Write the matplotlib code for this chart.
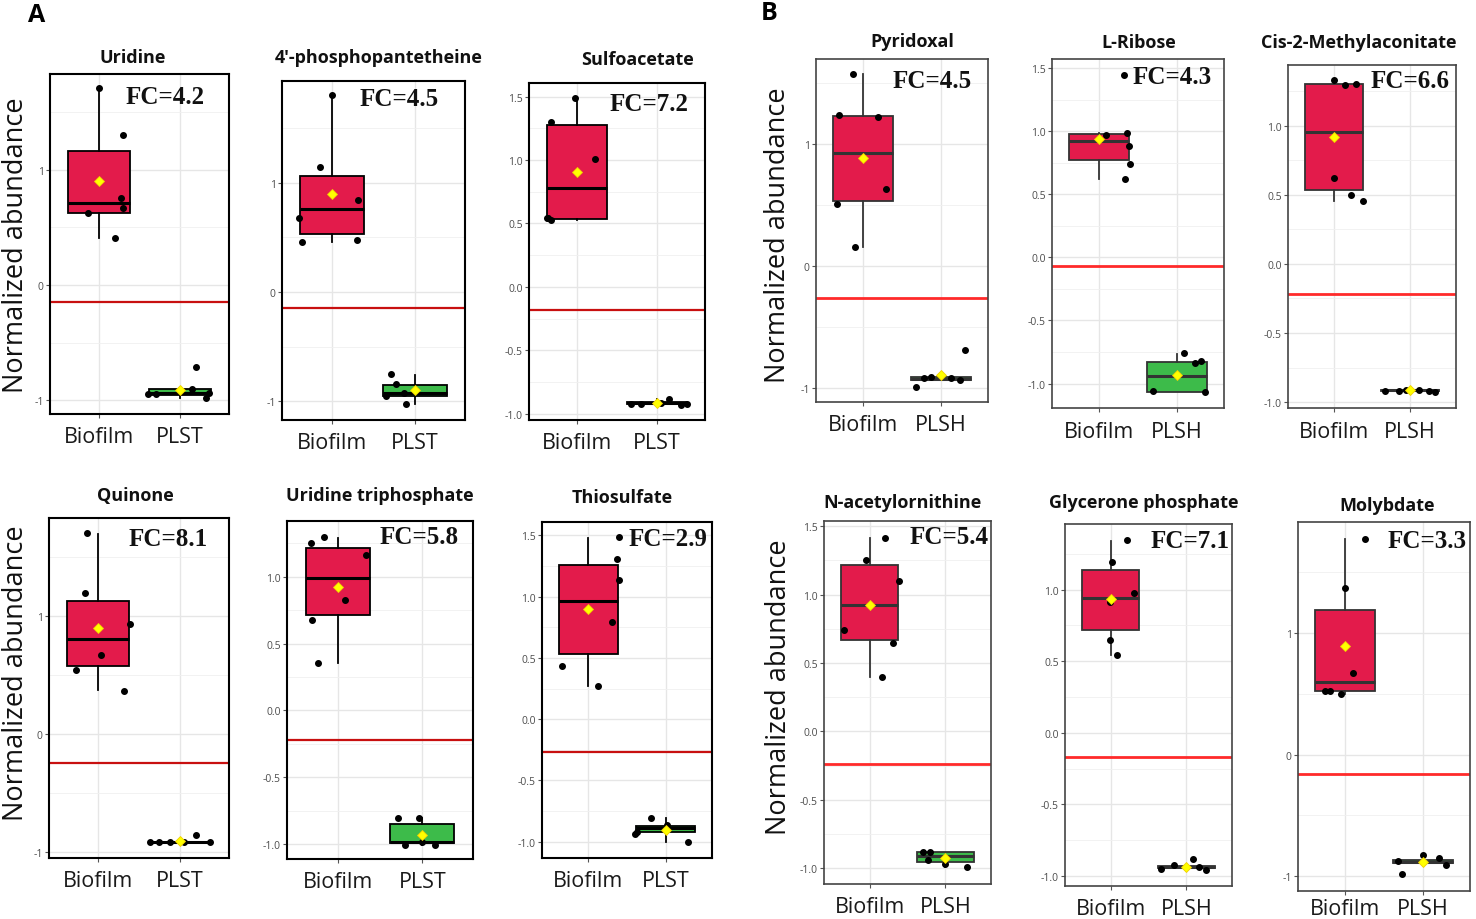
import numpy as np
import matplotlib.pyplot as plt
from matplotlib.ticker import AutoMinorLocator, FormatStrFormatter

plt.rcParams['axes.unicode_minus'] = False
plt.rcParams['font.family'] = ['Open Sans', 'DejaVu Sans']

W, H = 1476, 920

# ---- data ----
titles = ["Uridine", "4'-phosphopantetheine", "Sulfoacetate",
          "Pyridoxal", "L-Ribose", "Cis-2-Methylaconitate",
          "Quinone", "Uridine triphosphate", "Thiosulfate",
          "N-acetylornithine", "Glycerone phosphate", "Molybdate"]
fold_change = ["4.2", "4.5", "7.2", "4.5", "4.3", "6.6",
               "8.1", "5.8", "2.9", "5.4", "7.1", "3.3"]
group_names = [["Biofilm", "PLST"], ["Biofilm", "PLST"], ["Biofilm", "PLST"],
               ["Biofilm", "PLSH"], ["Biofilm", "PLSH"], ["Biofilm", "PLSH"],
               ["Biofilm", "PLST"], ["Biofilm", "PLST"], ["Biofilm", "PLST"],
               ["Biofilm", "PLSH"], ["Biofilm", "PLSH"], ["Biofilm", "PLSH"]]
threshold = [-0.15, -0.146, -0.184, -0.262, -0.069, -0.219,
             -0.243, -0.221, -0.267, -0.239, -0.172, -0.16]
y_limits = [(-1.12, 1.83), (-1.17, 1.93), (-1.05, 1.608),
            (-1.113, 1.696), (-1.193, 1.571), (-1.043, 1.439),
            (-1.047, 1.831), (-1.109, 1.415), (-1.133, 1.609),
            (-1.115, 1.537), (-1.07, 1.458), (-1.124, 1.916)]
int_ticks = [-1, 0, 1]
half_ticks = [-1.0, -0.5, 0.0, 0.5, 1.0, 1.5]
y_ticks = [int_ticks, int_ticks, half_ticks, int_ticks, half_ticks, half_ticks[:-1],
           int_ticks, half_ticks[:-1], half_ticks, half_ticks, half_ticks[:-1], int_ticks]

# box stats: whislo, q1, median, q3, whishi
bio_box = [[0.41, 0.62, 0.71, 1.165, 1.71], [0.46, 0.533, 0.762, 1.058, 1.80],
           [0.53, 0.537, 0.778, 1.275, 1.49], [0.156, 0.537, 0.928, 1.233, 1.574],
           [0.62, 0.773, 0.921, 0.979, 0.984], [0.453, 0.535, 0.957, 1.301, 1.33],
           [0.372, 0.575, 0.807, 1.128, 1.698], [0.351, 0.714, 0.993, 1.216, 1.291],
           [0.267, 0.533, 0.962, 1.258, 1.48], [0.40, 0.668, 0.92, 1.212, 1.412],
           [0.54, 0.721, 0.944, 1.14, 1.342], [0.50, 0.52, 0.597, 1.195, 1.78]]
bio_mean = [0.90, 0.90, 0.908, 0.887, 0.94, 0.92, 0.90, 0.925, 0.90, 0.925, 0.935, 0.891]
other_box = [[-0.98, -0.955, -0.935, -0.905, -0.90], [-1.02, -0.946, -0.92, -0.854, -0.757],
             [-0.93, -0.925, -0.918, -0.91, -0.886], [-0.936, -0.936, -0.922, -0.91, -0.91],
             [-1.066, -1.066, -0.942, -0.829, -0.763], [-0.925, -0.92, -0.916, -0.91, -0.905],
             [-0.915, -0.913, -0.911, -0.909, -0.905], [-1.005, -0.993, -0.98, -0.851, -0.806],
             [-1.003, -0.921, -0.89, -0.875, -0.81], [-0.993, -0.956, -0.907, -0.878, -0.878],
             [-0.956, -0.945, -0.937, -0.93, -0.926], [-0.91, -0.895, -0.883, -0.872, -0.856]]
other_mean = [-0.91, -0.90, -0.918, -0.895, -0.934, -0.916,
              -0.903, -0.93, -0.902, -0.924, -0.937, -0.889]

bio_points = [[1.71, 1.30, 0.75, 0.67, 0.62, 0.41],
              [1.80, 1.14, 0.68, 0.84, 0.46, 0.48],
              [1.49, 1.30, 1.01, 0.545, 0.527, 0.54],
              [1.574, 1.24, 1.22, 0.633, 0.505, 0.156],
              [1.445, 0.984, 0.966, 0.879, 0.742, 0.623],
              [1.33, 1.296, 1.30, 0.622, 0.50, 0.453],
              [1.707, 1.199, 0.937, 0.669, 0.544, 0.367],
              [1.249, 1.296, 1.159, 0.826, 0.674, 0.351],
              [1.486, 1.31, 1.139, 0.796, 0.435, 0.267],
              [1.415, 1.254, 1.097, 0.744, 0.646, 0.40],
              [1.347, 1.19, 0.977, 0.912, 0.651, 0.54],
              [1.78, 1.374, 0.671, 0.52, 0.52, 0.50]]
bio_jitter = [[0.0, 0.30, 0.27, 0.30, -0.13, 0.20],
              [0.0, -0.14, -0.40, 0.31, -0.36, 0.30],
              [-0.02, -0.33, 0.23, -0.38, -0.33, -0.36],
              [-0.13, -0.30, 0.19, 0.30, -0.33, -0.105],
              [0.32, 0.36, 0.09, 0.39, 0.40, 0.33],
              [0.0, 0.15, 0.29, 0.0, 0.22, 0.38],
              [-0.13, -0.155, 0.39, 0.04, -0.27, 0.32],
              [-0.32, -0.165, 0.33, 0.09, -0.31, -0.23],
              [0.40, 0.375, 0.40, 0.31, -0.34, 0.12],
              [0.2, -0.05, 0.39, -0.34, 0.31, 0.17],
              [0.22, 0.02, 0.31, -0.01, -0.01, 0.08],
              [0.26, 0.0, 0.1, -0.26, -0.19, -0.05]]
other_points = [[-0.95, -0.95, -0.90, -0.71, -0.98, -0.94],
                [-0.75, -0.84, -0.95, -0.92, -1.02],
                [-0.92, -0.925, -0.918, -0.886, -0.93, -0.925],
                [-0.99, -0.92, -0.91, -0.914, -0.936, -0.69],
                [-0.755, -0.834, -0.823, -1.06, -1.066],
                [-0.92, -0.918, -0.91, -0.915, -0.92, -0.925],
                [-0.911, -0.911, -0.909, -0.911, -0.849, -0.911],
                [-0.806, -0.806, -1.005, -1.005, -0.985],
                [-0.81, -0.864, -0.935, -1.003, -0.92],
                [-0.878, -0.878, -0.937, -0.968, -0.993],
                [-0.949, -0.926, -0.884, -0.937, -0.956],
                [-0.983, -0.825, -0.856, -0.911, -0.88]]
other_jitter = [[-0.40, -0.30, 0.15, 0.20, 0.32, 0.36],
                [-0.29, -0.23, -0.35, -0.13, -0.11],
                [-0.33, -0.2, 0.05, 0.15, 0.30, 0.38],
                [-0.32, -0.22, -0.13, 0.13, 0.24, 0.31],
                [0.09, 0.23, 0.31, -0.31, 0.36],
                [-0.33, -0.15, -0.05, 0.12, 0.25, 0.33],
                [-0.37, -0.25, -0.12, 0.05, 0.2, 0.37],
                [-0.29, -0.035, -0.21, 0.15, 0.0],
                [-0.19, 0.02, -0.40, 0.29, -0.37],
                [-0.29, -0.2, -0.23, -0.01, 0.28],
                [-0.34, -0.16, 0.08, 0.16, 0.26],
                [-0.27, 0.0, 0.2, 0.29, -0.32]]

# ---- layout (pixels) ----
panel_px = [(50, 229, 75, 415), (282, 465, 82, 421), (529, 705, 84, 421),
            (816, 988, 60, 403), (1052, 1224, 60, 409), (1288, 1456, 66, 409),
            (49, 229, 519, 859), (287, 473, 522, 860), (542, 712, 523, 859),
            (824, 991, 522, 885), (1065, 1232, 525, 887), (1298, 1470, 523, 892)]
title_px = [(133, 58), (379, 58), (638, 60), (912, 42), (1139, 43), (1359, 43),
            (135, 496), (380, 496), (622, 498), (902, 503), (1144, 503), (1387, 506)]
fc_px = [(24, 22), (26, 18), (16, 21), (16, 22), (12, 18), (6, 15),
         (21, 21), (14, 15), (5, 17), (2, 16), (2, 16), (3, 19)]
ylabel_px = [(16, 245), (778, 235), (16, 673), (779, 687)]
in_b = [False, False, False, True, True, True, False, False, False, True, True, True]

red_fill = '#E31B4B'
green_fill = '#3DBB4A'

fig = plt.figure(figsize=(W / 100, H / 100), dpi=100)

for i in range(12):
    l, r, t, b = panel_px[i]
    ax = fig.add_axes([l / W, 1 - b / H, (r - l) / W, (b - t) / H])
    edge = '#333333' if in_b[i] else 'black'

    stats = []
    for box, mean in [(bio_box[i], bio_mean[i]), (other_box[i], other_mean[i])]:
        stats.append(dict(whislo=box[0], q1=box[1], med=box[2], q3=box[3], whishi=box[4], mean=mean))
    parts = ax.bxp(stats, positions=[1, 2], widths=0.76, patch_artist=True,
                   showfliers=False, showcaps=False,
                   boxprops=dict(edgecolor=edge, linewidth=1.3),
                   medianprops=dict(color=edge, linewidth=2.2),
                   whiskerprops=dict(color=edge, linewidth=1.3))
    parts['boxes'][0].set_facecolor(red_fill)
    parts['boxes'][1].set_facecolor(green_fill)
    for p in parts['boxes'] + parts['whiskers'] + parts['medians']:
        p.set_zorder(2)

    ax.scatter(1 + np.array(bio_jitter[i]), bio_points[i], s=16, color='black', zorder=3)
    ax.scatter(2 + np.array(other_jitter[i]), other_points[i], s=16, color='black', zorder=3)
    ax.plot([1, 2], [bio_mean[i], other_mean[i]], linestyle='none', marker='D', markersize=5,
            markerfacecolor='#FFFF00', markeredgecolor='#F0D000', markeredgewidth=0.6, zorder=4)

    ax.axhline(threshold[i], color='#FF2A2A' if in_b[i] else '#C81010',
               linewidth=2.0 if in_b[i] else 1.6, zorder=1.5)

    ax.set_xlim(0.4, 2.6)
    ax.set_ylim(*y_limits[i])
    ax.set_xticks([1, 2])
    ax.set_xticklabels(group_names[i], fontsize=15.5)
    ax.set_yticks(y_ticks[i])
    if y_ticks[i] is int_ticks:
        ax.yaxis.set_major_formatter(FormatStrFormatter('%d'))
    else:
        ax.yaxis.set_major_formatter(FormatStrFormatter('%.1f'))
    ax.yaxis.set_minor_locator(AutoMinorLocator(2))
    ax.tick_params(axis='y', which='major', labelsize=7.5, labelcolor='#4D4D4D',
                   length=3, width=0.8, color='#555555', pad=1.5)
    ax.tick_params(axis='x', which='major', length=3, width=0.8, color='#555555',
                   pad=2 if b > 888 else 6, labelcolor='#1A1A1A')
    ax.tick_params(which='minor', length=0)
    ax.grid(True, which='major', color='#E6E6E6', linewidth=1.0, zorder=0)
    ax.grid(True, which='minor', axis='y', color='#F0F0F0', linewidth=0.6, zorder=0)
    ax.set_axisbelow(True)
    for s in ax.spines.values():
        s.set_color('#444444' if in_b[i] else 'black')
        s.set_linewidth(1.2 if in_b[i] else 1.5)

    fr, ft = fc_px[i]
    ax.text(1 - fr / (r - l), 1 - ft / (b - t), 'FC=' + fold_change[i],
            transform=ax.transAxes, ha='right', va='center',
            family='Liberation Serif', fontweight='bold',
            fontsize=18, color='#111111', zorder=5)

    tx, ty = title_px[i]
    fig.text(tx / W, 1 - ty / H, titles[i], ha='center', va='center',
             fontsize=13, fontweight='bold', color='#111111')

for (x, y) in ylabel_px:
    fig.text(x / W, 1 - y / H, 'Normalized abundance', rotation=90,
             ha='center', va='center', fontsize=19.5, color='#111111')

fig.text(37 / W, 1 - 16 / H, 'A', ha='center', va='center', fontsize=18, fontweight='bold')
fig.text(769 / W, 1 - 14 / H, 'B', ha='center', va='center', fontsize=18, fontweight='bold')

fig.savefig('out.png', dpi=100, facecolor='white')
